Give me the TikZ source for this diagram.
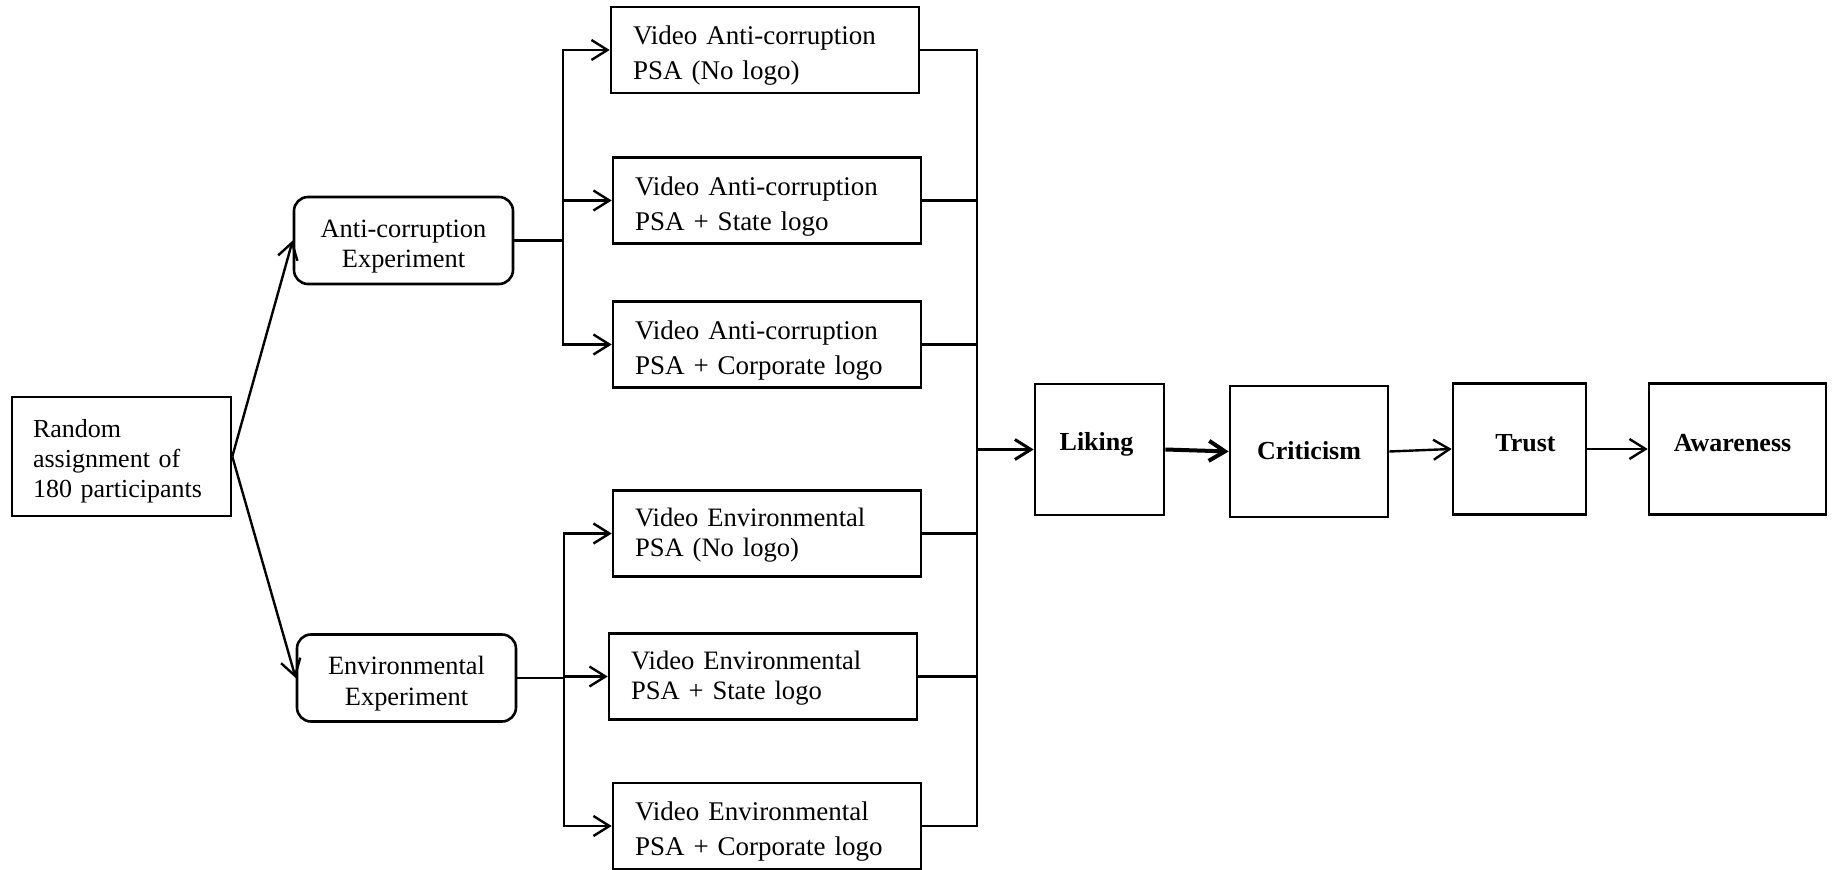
\documentclass[tikz,border=0pt]{standalone}
\usepackage{fontspec}
\setmainfont{Liberation Serif}
\usetikzlibrary{arrows.meta}
\newcommand\mystrut[1]{\rule{0pt}{#1}}
\begin{document}
\begin{tikzpicture}[x=0.5pt,y=-0.5pt,
  box/.style={draw, line width=1.3pt, inner sep=0pt},
  vbox/.style={box, minimum width=154pt, minimum height=43pt, text width=132pt, align=left, font=\fontsize{13.5}{17.5}\selectfont},
  tvbox/.style={vbox, font=\fontsize{13.3}{15.3}\selectfont},
  rbox/.style={box, minimum width=109.5pt, minimum height=59.5pt, text width=88.5pt, align=left, font=\fontsize{13}{15}\selectfont},
  ebox/.style={box, rounded corners=7pt, minimum width=109.5pt, minimum height=43.5pt, align=center, font=\fontsize{13.2}{15.2}\selectfont},
  obox/.style={box, minimum height=65.5pt, font=\fontsize{13}{15}\selectfont\bfseries},
  ln/.style={line width=1.2pt},
  arr/.style={ln, -{Straight Barb[length=8pt,width=10pt]}}
]
\useasboundingbox (0,0) rectangle (1835,870);

\node[rbox] (rand) at (121.5,456.5) {\mystrut{13.5pt}Random\\assignment of\\180 participants};
\node[ebox] (anti) at (403.5,240.5) {\mystrut{15pt}Anti-corruption\\Experiment};
\node[ebox] (env) at (406.5,678) {\mystrut{15pt}Environmental\\Experiment};

\node[vbox] (a1) at (765,50) {\mystrut{15.2pt}Video Anti-corruption\\PSA (No logo)};
\node[vbox] (a2) at (767,200.5) {\mystrut{15.2pt}Video Anti-corruption\\PSA + State logo};
\node[vbox] (a3) at (767,344.5) {\mystrut{15.2pt}Video Anti-corruption\\PSA + Corporate logo};
\node[tvbox] (e1) at (767,533.5) {\mystrut{11pt}Video Environmental\\PSA (No logo)};
\node[tvbox] (e2) at (763,676.5) {\mystrut{11pt}Video Environmental\\PSA + State logo};
\node[vbox] (e3) at (767,826) {\mystrut{15.2pt}Video Environmental\\PSA + Corporate logo};

\node[obox, minimum width=64.5pt] (lik) at (1099.5,449.5) {\raisebox{8pt}{Liking\hspace{3pt}}};
\node[obox, minimum width=79pt] (crit) at (1309,451.5) {\raisebox{1.5pt}{Criticism}};
\node[obox, minimum width=66.5pt] (trust) at (1519.5,449) {\raisebox{6pt}{\hspace{6pt}Trust}};
\node[obox, minimum width=88.5pt] (aware) at (1737.5,449) {\raisebox{6pt}{Awareness\hspace{5pt}}};

\coordinate (busA) at (563,240.5);
\coordinate (busE) at (564,678);
\coordinate (busR) at (977,449.5);

\draw[arr] (rand.east) -- (anti.west);
\draw[arr] (rand.east) -- (env.west);

\draw[ln] (anti.east) -- (busA);
\draw[arr] (busA) |- (a1.west);
\draw[arr] (busA) |- (a2.west);
\draw[arr] (busA) |- (a3.west);

\draw[ln] (env.east) -- (busE);
\draw[arr] (busE) |- (e1.west);
\draw[arr] (busE) |- (e2.west);
\draw[arr] (busE) |- (e3.west);

\draw[ln] (a1.east) -| (busR);
\draw[ln] (e3.east) -| (busR);
\draw[ln] (a2.east) -- (a2.east -| busR);
\draw[ln] (a3.east) -- (a3.east -| busR);
\draw[ln] (e1.east) -- (e1.east -| busR);
\draw[ln] (e2.east) -- (e2.east -| busR);

\draw[arr, line width=1.5pt] (busR) -- (lik.west);
\draw[arr, line width=2pt] (lik.east) -- (crit.west);
\draw[arr] (crit.east) -- (trust.west);
\draw[arr] (trust.east) -- (aware.west);
\end{tikzpicture}
\end{document}
